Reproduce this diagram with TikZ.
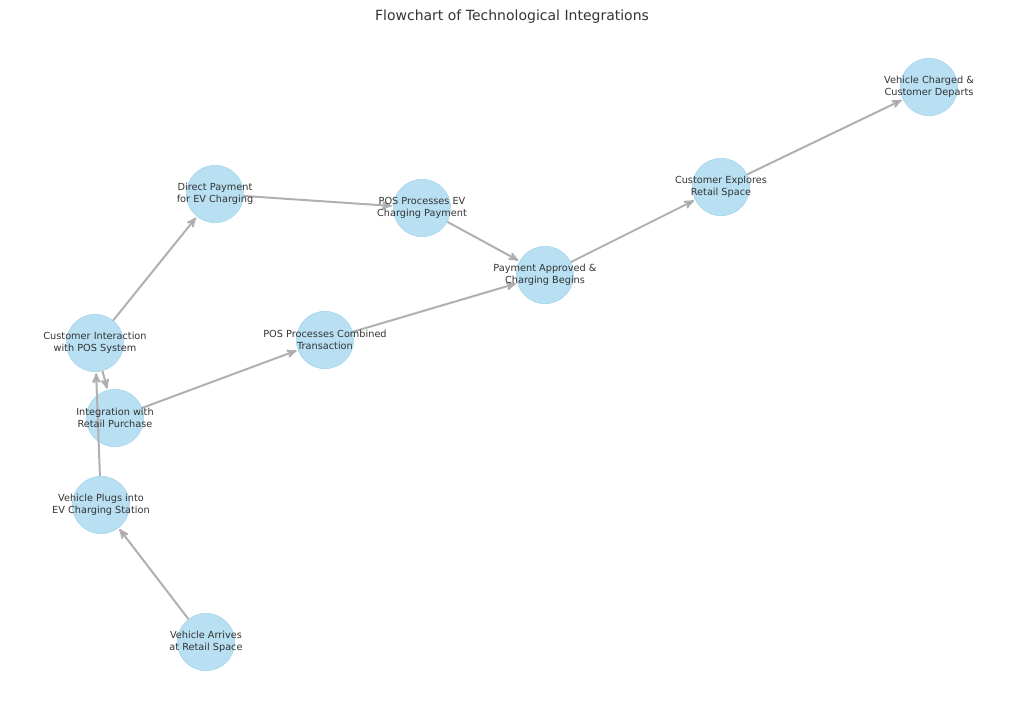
\documentclass[tikz,border=0pt]{standalone}
\usepackage{fontspec}
\setmainfont{DejaVu Sans}
\usetikzlibrary{arrows}
\definecolor{nodeblue}{RGB}{184,224,242}
\definecolor{nodeedge}{RGB}{160,212,236}
\definecolor{edgegray}{RGB}{176,176,176}
\definecolor{txtgray}{RGB}{51,51,51}
\begin{document}
\begin{tikzpicture}[x=0.75pt,y=-0.75pt,->,>=stealth',shorten >=1pt,
                    main node/.style={circle,fill=nodeblue,draw=nodeedge,minimum size=43pt,inner sep=0pt},
                    label text/.style={align=center,text=txtgray,font={\fontsize{7.3pt}{8.6pt}\selectfont}}]
  \useasboundingbox (0,0) rectangle (1024,709);
  \node[text=txtgray,font={\fontsize{10.5pt}{12pt}\selectfont}] (title) at (512,17) {Flowchart of Technological Integrations};

  \node[main node] (arrive) at (206,642) {};
  \node[main node] (plugs) at (101,505) {};
  \node[main node] (interact) at (95,343) {};
  \node[main node] (integr) at (115,418) {};
  \node[main node] (direct) at (215,194) {};
  \node[main node] (posev) at (422,208) {};
  \node[main node] (combined) at (325,340) {};
  \node[main node] (approved) at (545,275) {};
  \node[main node] (explores) at (721,187) {};
  \node[main node] (departs) at (929,87) {};

  \path[draw=edgegray,line width=1.5pt]
    (arrive) edge (plugs)
    (plugs) edge (interact)
    (interact) edge (integr)
               edge (direct)
    (integr) edge (combined)
    (direct) edge (posev)
    (posev) edge (approved)
    (combined) edge (approved)
    (approved) edge (explores)
    (explores) edge (departs);

  \node[label text] at (arrive) {Vehicle Arrives\\at Retail Space};
  \node[label text] at (plugs) {Vehicle Plugs into\\EV Charging Station};
  \node[label text] at (interact) {Customer Interaction\\with POS System};
  \node[label text] at (integr) {Integration with\\Retail Purchase};
  \node[label text] at (direct) {Direct Payment\\for EV Charging};
  \node[label text] at (posev) {POS Processes EV\\Charging Payment};
  \node[label text] at (combined) {POS Processes Combined\\Transaction};
  \node[label text] at (approved) {Payment Approved \&\\Charging Begins};
  \node[label text] at (explores) {Customer Explores\\Retail Space};
  \node[label text] at (departs) {Vehicle Charged \&\\Customer Departs};
\end{tikzpicture}
\end{document}
